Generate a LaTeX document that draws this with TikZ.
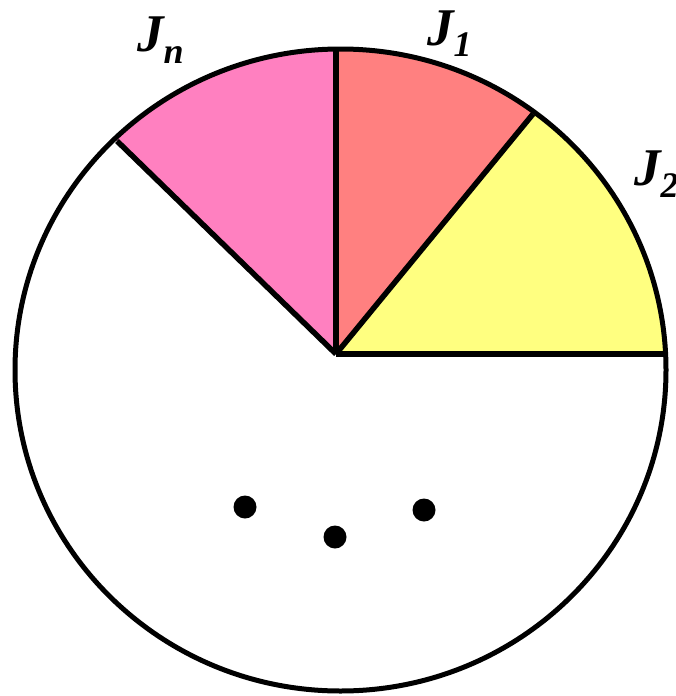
\documentclass[tikz,border=0pt]{standalone}
\usepackage{fontspec}
\setmainfont{Liberation Serif}
\usetikzlibrary{calc}
\definecolor{pinkw}{HTML}{FF80C0}
\definecolor{salmonw}{HTML}{FF8080}
\definecolor{yelloww}{HTML}{FFFF80}
\tikzset{
  edge/.style={line width=5.5pt, line cap=butt},
  rim/.style={line width=5pt},
  dot/.style={fill=black},
  lab/.style={anchor=base west, inner sep=0pt, font=\fontsize{53}{53}\selectfont\bfseries\itshape},
}
\newcommand{\subl}[1]{\lower12pt\hbox{\fontsize{36}{36}\selectfont\bfseries\itshape #1}}
\begin{document}
\begin{tikzpicture}[x=1pt,y=-1pt]
\useasboundingbox (0,0) rectangle (675,696);
\coordinate (v) at (336,354);
\coordinate (top) at (336,50);
\coordinate (en) at (117,141);
\coordinate (e1) at (533,114);
\coordinate (er) at (665,354);
\begin{scope}
  \clip (340.5,370) ellipse [x radius=325.5, y radius=321];
  \fill[pinkw] (v) -- ($(v)!1.6!(en)$) -- (0,-20) -- (336,-20) -- cycle;
  \fill[salmonw] (v) -- (336,-20) -- ($(v)!1.6!(e1)$) -- cycle;
  \fill[yelloww] (v) -- ($(v)!1.6!(e1)$) -- (700,-20) -- (700,354) -- cycle;
\end{scope}
\draw[edge] (v) -- (top);
\draw[edge] (v) -- (en);
\draw[edge] (v) -- (e1);
\draw[edge] (v) -- (er);
\draw[rim] (340.5,370) ellipse [x radius=325.5, y radius=321];
\fill[dot] (245,507) circle (11.5);
\fill[dot] (335,537) circle (11.5);
\fill[dot] (424,510) circle (11.5);
\node[lab] (ln) at (137,51) {J\subl{n}};
\node[lab] (l1) at (427,45) {J\subl{1}};
\node[lab] (l2) at (634,185) {J\subl{2}};
\end{tikzpicture}
\end{document}
